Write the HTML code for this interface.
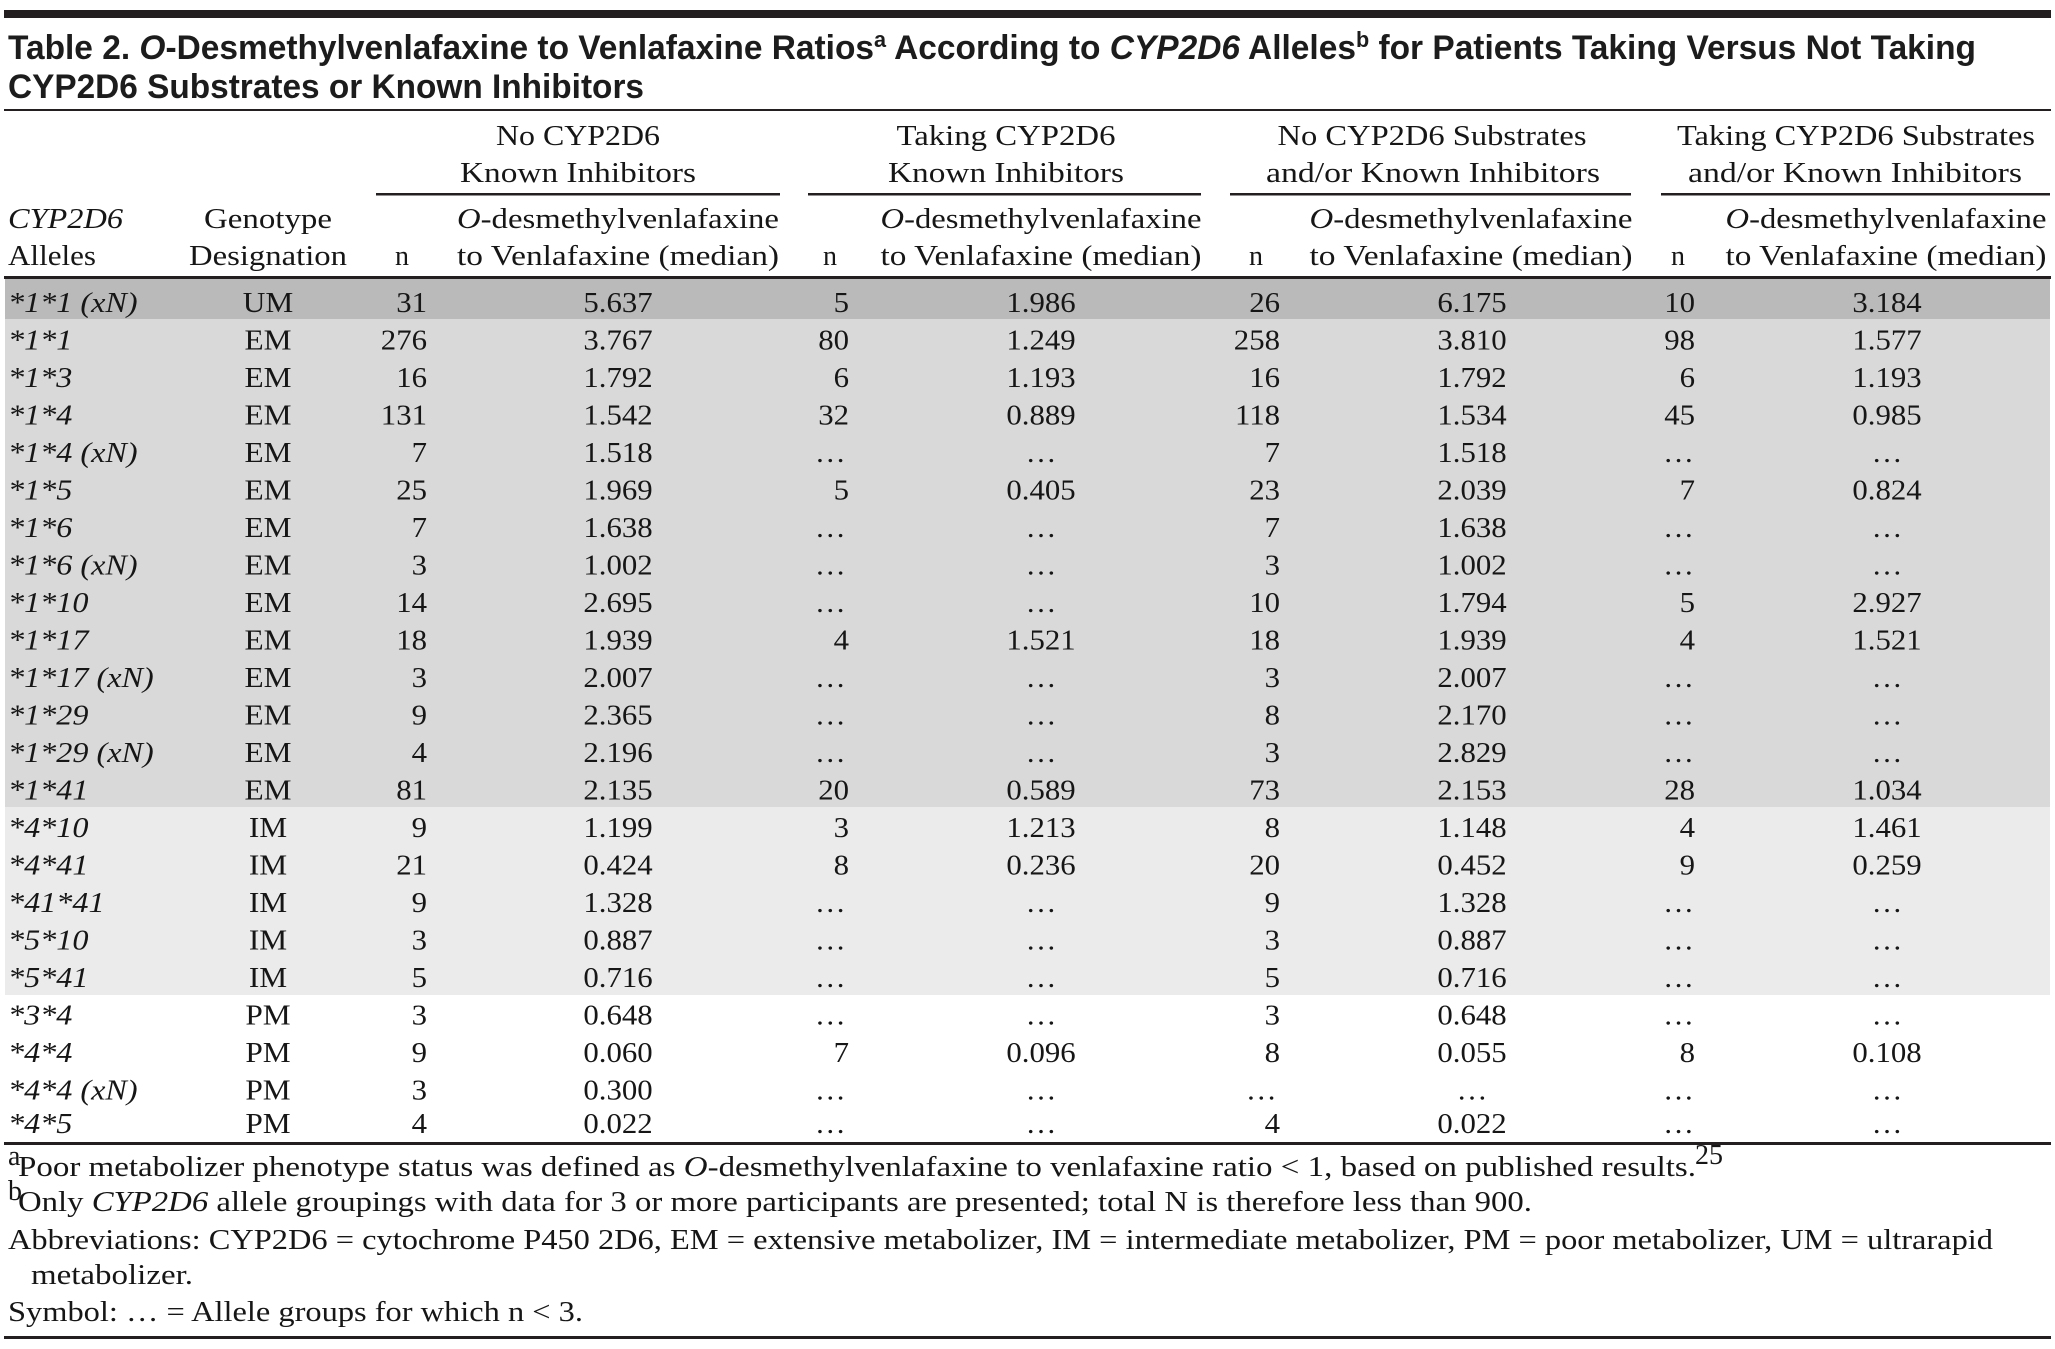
<!DOCTYPE html>
<html>
<head>
<meta charset="utf-8">
<style>
  html,body{margin:0;padding:0;background:#fff;}
  svg{display:block;}
  .s{font-family:"Liberation Serif",serif;font-size:28px;fill:#161616;}
  .f{font-family:"Liberation Serif",serif;font-size:28px;fill:#161616;}
  .t{font-family:"Liberation Sans",sans-serif;font-size:34px;font-weight:bold;fill:#1c1c1c;}
  .i{font-style:italic;}
  .m{text-anchor:middle;}
  .e{text-anchor:end;}
</style>
</head>
<body>
<svg width="2055" height="1349" viewBox="0 0 2055 1349" xmlns="http://www.w3.org/2000/svg">
  <rect x="0" y="0" width="2055" height="1349" fill="#fff"/>

  <!-- row shading -->
  <rect x="5" y="279" width="2045" height="40" fill="#bababa"/>
  <rect x="5" y="319" width="2045" height="488" fill="#d9d9d9"/>
  <rect x="5" y="807" width="2045" height="188" fill="#ebebeb"/>

  <!-- rules -->
  <rect x="4" y="10" width="2047" height="8" fill="#231f20"/>
  <rect x="4" y="109" width="2047" height="2" fill="#231f20"/>
  <rect x="376" y="193" width="404" height="2.5" fill="#231f20"/>
  <rect x="808" y="193" width="393" height="2.5" fill="#231f20"/>
  <rect x="1230" y="193" width="401" height="2.5" fill="#231f20"/>
  <rect x="1661" y="193" width="389" height="2.5" fill="#231f20"/>
  <rect x="4" y="276" width="2047" height="3" fill="#231f20"/>
  <rect x="4" y="1142" width="2047" height="3" fill="#231f20"/>
  <rect x="4" y="1336" width="2047" height="3" fill="#231f20"/>

  <!-- title -->
  <text class="t" x="8" y="59" textLength="1968" lengthAdjust="spacingAndGlyphs">Table 2. <tspan class="i">O</tspan>-Desmethylvenlafaxine to Venlafaxine Ratios<tspan font-size="22" dy="-12">a</tspan><tspan dy="12"> According to </tspan><tspan class="i">CYP2D6</tspan> Alleles<tspan font-size="22" dy="-12">b</tspan><tspan dy="12"> for Patients Taking Versus Not Taking</tspan></text>
  <text class="t" x="8" y="98" textLength="636" lengthAdjust="spacingAndGlyphs">CYP2D6 Substrates or Known Inhibitors</text>

  <!-- group headers -->
  <text class="s m" x="578" y="145" textLength="164" lengthAdjust="spacingAndGlyphs">No CYP2D6</text>
  <text class="s m" x="578" y="182" textLength="236" lengthAdjust="spacingAndGlyphs">Known Inhibitors</text>
  <text class="s m" x="1006" y="145" textLength="219" lengthAdjust="spacingAndGlyphs">Taking CYP2D6</text>
  <text class="s m" x="1006" y="182" textLength="236" lengthAdjust="spacingAndGlyphs">Known Inhibitors</text>
  <text class="s m" x="1432" y="145" textLength="309" lengthAdjust="spacingAndGlyphs">No CYP2D6 Substrates</text>
  <text class="s m" x="1433" y="182" textLength="334" lengthAdjust="spacingAndGlyphs">and/or Known Inhibitors</text>
  <text class="s m" x="1856" y="145" textLength="358" lengthAdjust="spacingAndGlyphs">Taking CYP2D6 Substrates</text>
  <text class="s m" x="1855" y="182" textLength="334" lengthAdjust="spacingAndGlyphs">and/or Known Inhibitors</text>

  <!-- sub headers -->
  <text class="s i" x="8" y="228" textLength="115" lengthAdjust="spacingAndGlyphs">CYP2D6</text>
  <text class="s" x="8" y="265" textLength="88" lengthAdjust="spacingAndGlyphs">Alleles</text>
  <text class="s m" x="268" y="228" textLength="128" lengthAdjust="spacingAndGlyphs">Genotype</text>
  <text class="s m" x="268" y="265" textLength="158" lengthAdjust="spacingAndGlyphs">Designation</text>
  <text class="s m" x="402" y="265">n</text>
  <text class="s m" x="830" y="265">n</text>
  <text class="s m" x="1256" y="265">n</text>
  <text class="s m" x="1678" y="265">n</text>

  <text class="s m" x="618" y="228" textLength="322" lengthAdjust="spacingAndGlyphs"><tspan class="i">O</tspan>-desmethylvenlafaxine</text>
  <text class="s m" x="618" y="265" textLength="322" lengthAdjust="spacingAndGlyphs">to Venlafaxine (median)</text>
  <text class="s m" x="1041" y="228" textLength="321" lengthAdjust="spacingAndGlyphs"><tspan class="i">O</tspan>-desmethylvenlafaxine</text>
  <text class="s m" x="1041" y="265" textLength="321" lengthAdjust="spacingAndGlyphs">to Venlafaxine (median)</text>
  <text class="s m" x="1471" y="228" textLength="323" lengthAdjust="spacingAndGlyphs"><tspan class="i">O</tspan>-desmethylvenlafaxine</text>
  <text class="s m" x="1471" y="265" textLength="323" lengthAdjust="spacingAndGlyphs">to Venlafaxine (median)</text>
  <text class="s m" x="1886" y="228" textLength="321" lengthAdjust="spacingAndGlyphs"><tspan class="i">O</tspan>-desmethylvenlafaxine</text>
  <text class="s m" x="1886" y="265" textLength="321" lengthAdjust="spacingAndGlyphs">to Venlafaxine (median)</text>

  <!-- Alleles column -->
  <g class="s i" transform="translate(8 0) scale(1.15 1)">
    <text y="312">*1*1 (xN)</text>
    <text y="349.5">*1*1</text>
    <text y="387">*1*3</text>
    <text y="424.5">*1*4</text>
    <text y="462">*1*4 (xN)</text>
    <text y="499.5">*1*5</text>
    <text y="537">*1*6</text>
    <text y="574.5">*1*6 (xN)</text>
    <text y="612">*1*10</text>
    <text y="649.5">*1*17</text>
    <text y="687">*1*17 (xN)</text>
    <text y="724.5">*1*29</text>
    <text y="762">*1*29 (xN)</text>
    <text y="799.5">*1*41</text>
    <text y="837">*4*10</text>
    <text y="874.5">*4*41</text>
    <text y="912">*41*41</text>
    <text y="949.5">*5*10</text>
    <text y="987">*5*41</text>
    <text y="1024.5">*3*4</text>
    <text y="1062">*4*4</text>
    <text y="1099.5">*4*4 (xN)</text>
    <text y="1133">*4*5</text>
  </g>

  <!-- Genotype column -->
  <g class="s m" transform="translate(268 0) scale(1.12 1)">
    <text y="312">UM</text>
    <text y="349.5">EM</text>
    <text y="387">EM</text>
    <text y="424.5">EM</text>
    <text y="462">EM</text>
    <text y="499.5">EM</text>
    <text y="537">EM</text>
    <text y="574.5">EM</text>
    <text y="612">EM</text>
    <text y="649.5">EM</text>
    <text y="687">EM</text>
    <text y="724.5">EM</text>
    <text y="762">EM</text>
    <text y="799.5">EM</text>
    <text y="837">IM</text>
    <text y="874.5">IM</text>
    <text y="912">IM</text>
    <text y="949.5">IM</text>
    <text y="987">IM</text>
    <text y="1024.5">PM</text>
    <text y="1062">PM</text>
    <text y="1099.5">PM</text>
    <text y="1133">PM</text>
  </g>

  <!-- n1 -->
  <g class="s e" transform="translate(427 0) scale(1.1 1)">
    <text y="312">31</text>
    <text y="349.5">276</text>
    <text y="387">16</text>
    <text y="424.5">131</text>
    <text y="462">7</text>
    <text y="499.5">25</text>
    <text y="537">7</text>
    <text y="574.5">3</text>
    <text y="612">14</text>
    <text y="649.5">18</text>
    <text y="687">3</text>
    <text y="724.5">9</text>
    <text y="762">4</text>
    <text y="799.5">81</text>
    <text y="837">9</text>
    <text y="874.5">21</text>
    <text y="912">9</text>
    <text y="949.5">3</text>
    <text y="987">5</text>
    <text y="1024.5">3</text>
    <text y="1062">9</text>
    <text y="1099.5">3</text>
    <text y="1133">4</text>
  </g>

  <!-- r1 -->
  <g class="s m" transform="translate(618 0) scale(1.1 1)">
    <text y="312">5.637</text>
    <text y="349.5">3.767</text>
    <text y="387">1.792</text>
    <text y="424.5">1.542</text>
    <text y="462">1.518</text>
    <text y="499.5">1.969</text>
    <text y="537">1.638</text>
    <text y="574.5">1.002</text>
    <text y="612">2.695</text>
    <text y="649.5">1.939</text>
    <text y="687">2.007</text>
    <text y="724.5">2.365</text>
    <text y="762">2.196</text>
    <text y="799.5">2.135</text>
    <text y="837">1.199</text>
    <text y="874.5">0.424</text>
    <text y="912">1.328</text>
    <text y="949.5">0.887</text>
    <text y="987">0.716</text>
    <text y="1024.5">0.648</text>
    <text y="1062">0.060</text>
    <text y="1099.5">0.300</text>
    <text y="1133">0.022</text>
  </g>

  <!-- n2 -->
  <g class="s e" transform="translate(849 0) scale(1.1 1)">
    <text y="312">5</text>
    <text y="349.5">80</text>
    <text y="387">6</text>
    <text y="424.5">32</text>
    <text x="-3" y="462">…</text>
    <text y="499.5">5</text>
    <text x="-3" y="537">…</text>
    <text x="-3" y="574.5">…</text>
    <text x="-3" y="612">…</text>
    <text y="649.5">4</text>
    <text x="-3" y="687">…</text>
    <text x="-3" y="724.5">…</text>
    <text x="-3" y="762">…</text>
    <text y="799.5">20</text>
    <text y="837">3</text>
    <text y="874.5">8</text>
    <text x="-3" y="912">…</text>
    <text x="-3" y="949.5">…</text>
    <text x="-3" y="987">…</text>
    <text x="-3" y="1024.5">…</text>
    <text y="1062">7</text>
    <text x="-3" y="1099.5">…</text>
    <text x="-3" y="1133">…</text>
  </g>

  <!-- r2 -->
  <g class="s m" transform="translate(1041 0) scale(1.1 1)">
    <text y="312">1.986</text>
    <text y="349.5">1.249</text>
    <text y="387">1.193</text>
    <text y="424.5">0.889</text>
    <text y="462">…</text>
    <text y="499.5">0.405</text>
    <text y="537">…</text>
    <text y="574.5">…</text>
    <text y="612">…</text>
    <text y="649.5">1.521</text>
    <text y="687">…</text>
    <text y="724.5">…</text>
    <text y="762">…</text>
    <text y="799.5">0.589</text>
    <text y="837">1.213</text>
    <text y="874.5">0.236</text>
    <text y="912">…</text>
    <text y="949.5">…</text>
    <text y="987">…</text>
    <text y="1024.5">…</text>
    <text y="1062">0.096</text>
    <text y="1099.5">…</text>
    <text y="1133">…</text>
  </g>

  <!-- n3 -->
  <g class="s e" transform="translate(1280 0) scale(1.1 1)">
    <text y="312">26</text>
    <text y="349.5">258</text>
    <text y="387">16</text>
    <text y="424.5">118</text>
    <text y="462">7</text>
    <text y="499.5">23</text>
    <text y="537">7</text>
    <text y="574.5">3</text>
    <text y="612">10</text>
    <text y="649.5">18</text>
    <text y="687">3</text>
    <text y="724.5">8</text>
    <text y="762">3</text>
    <text y="799.5">73</text>
    <text y="837">8</text>
    <text y="874.5">20</text>
    <text y="912">9</text>
    <text y="949.5">3</text>
    <text y="987">5</text>
    <text y="1024.5">3</text>
    <text y="1062">8</text>
    <text x="-3" y="1099.5">…</text>
    <text y="1133">4</text>
  </g>

  <!-- r3 -->
  <g class="s m" transform="translate(1472 0) scale(1.1 1)">
    <text y="312">6.175</text>
    <text y="349.5">3.810</text>
    <text y="387">1.792</text>
    <text y="424.5">1.534</text>
    <text y="462">1.518</text>
    <text y="499.5">2.039</text>
    <text y="537">1.638</text>
    <text y="574.5">1.002</text>
    <text y="612">1.794</text>
    <text y="649.5">1.939</text>
    <text y="687">2.007</text>
    <text y="724.5">2.170</text>
    <text y="762">2.829</text>
    <text y="799.5">2.153</text>
    <text y="837">1.148</text>
    <text y="874.5">0.452</text>
    <text y="912">1.328</text>
    <text y="949.5">0.887</text>
    <text y="987">0.716</text>
    <text y="1024.5">0.648</text>
    <text y="1062">0.055</text>
    <text y="1099.5">…</text>
    <text y="1133">0.022</text>
  </g>

  <!-- n4 -->
  <g class="s e" transform="translate(1695 0) scale(1.1 1)">
    <text y="312">10</text>
    <text y="349.5">98</text>
    <text y="387">6</text>
    <text y="424.5">45</text>
    <text x="-1" y="462">…</text>
    <text y="499.5">7</text>
    <text x="-1" y="537">…</text>
    <text x="-1" y="574.5">…</text>
    <text y="612">5</text>
    <text y="649.5">4</text>
    <text x="-1" y="687">…</text>
    <text x="-1" y="724.5">…</text>
    <text x="-1" y="762">…</text>
    <text y="799.5">28</text>
    <text y="837">4</text>
    <text y="874.5">9</text>
    <text x="-1" y="912">…</text>
    <text x="-1" y="949.5">…</text>
    <text x="-1" y="987">…</text>
    <text x="-1" y="1024.5">…</text>
    <text y="1062">8</text>
    <text x="-1" y="1099.5">…</text>
    <text x="-1" y="1133">…</text>
  </g>

  <!-- r4 -->
  <g class="s m" transform="translate(1887 0) scale(1.1 1)">
    <text y="312">3.184</text>
    <text y="349.5">1.577</text>
    <text y="387">1.193</text>
    <text y="424.5">0.985</text>
    <text y="462">…</text>
    <text y="499.5">0.824</text>
    <text y="537">…</text>
    <text y="574.5">…</text>
    <text y="612">2.927</text>
    <text y="649.5">1.521</text>
    <text y="687">…</text>
    <text y="724.5">…</text>
    <text y="762">…</text>
    <text y="799.5">1.034</text>
    <text y="837">1.461</text>
    <text y="874.5">0.259</text>
    <text y="912">…</text>
    <text y="949.5">…</text>
    <text y="987">…</text>
    <text y="1024.5">…</text>
    <text y="1062">0.108</text>
    <text y="1099.5">…</text>
    <text y="1133">…</text>
  </g>

  <!-- footnotes -->
  <text class="f" x="8" y="1165" font-size="18">a</text>
  <text class="f" x="18" y="1176" textLength="1678" lengthAdjust="spacingAndGlyphs">Poor metabolizer phenotype status was defined as <tspan class="i">O</tspan>-desmethylvenlafaxine to venlafaxine ratio &lt; 1, based on published results.</text>
  <text class="f" x="1695" y="1164" font-size="18">25</text>

  <text class="f" x="8" y="1200" font-size="18">b</text>
  <text class="f" x="18" y="1211" textLength="1514" lengthAdjust="spacingAndGlyphs">Only <tspan class="i">CYP2D6</tspan> allele groupings with data for 3 or more participants are presented; total N is therefore less than 900.</text>

  <text class="f" x="8" y="1249" textLength="1985" lengthAdjust="spacingAndGlyphs">Abbreviations: CYP2D6 = cytochrome P450 2D6, EM = extensive metabolizer, IM = intermediate metabolizer, PM = poor metabolizer, UM = ultrarapid</text>
  <text class="f" x="31" y="1284" textLength="162" lengthAdjust="spacingAndGlyphs">metabolizer.</text>
  <text class="f" x="8" y="1321" textLength="575" lengthAdjust="spacingAndGlyphs">Symbol: … = Allele groups for which n &lt; 3.</text>
</svg>
</body>
</html>
